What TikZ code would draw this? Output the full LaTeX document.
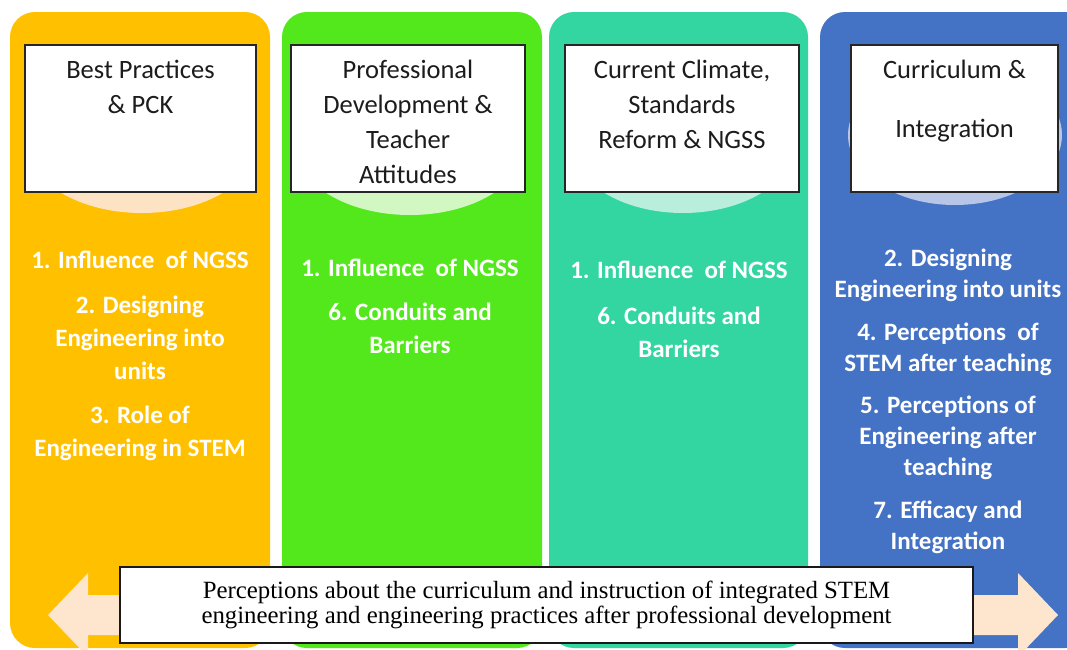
\documentclass[tikz,border=0pt]{standalone}
\usepackage{fontspec}
\setmainfont{Carlito}
\newfontfamily\serifpart{Liberation Serif}
\usetikzlibrary{positioning}

\definecolor{colBest}{HTML}{FFC000}
\definecolor{colProf}{HTML}{52E81C}
\definecolor{colClim}{HTML}{33D6A0}
\definecolor{colCurr}{HTML}{4472C4}
\definecolor{lightBest}{HTML}{FDE3C4}
\definecolor{lightProf}{HTML}{D3F7C3}
\definecolor{lightClim}{HTML}{B9EEDC}
\definecolor{lightCurr}{HTML}{B7C6E6}
\definecolor{arrowfill}{HTML}{FDE6CD}
\definecolor{hdrtext}{HTML}{1C1C1C}

\tikzset{
  column/.style={rectangle,rounded corners=25pt,minimum height=636pt,inner sep=0pt},
  hdr/.style={rectangle,draw=black!85,line width=1.4pt,fill=white,minimum height=147pt,inner sep=0pt},
  hdrtxt/.style={align=center,inner sep=0pt,text=hdrtext,font=\fontsize{26.5}{34.7}\selectfont},
  item/.style={anchor=north,align=center,inner sep=0pt,text=white,font=\bfseries\fontsize{25}{33}\selectfont},
}

\begin{document}
\begin{tikzpicture}[x=1pt,y=-1pt]
		\useasboundingbox (0,0) rectangle (1067,649);
		\clip (0,0) rectangle (1067,649);

		% the four columns
		\node[column,fill=colBest,minimum width=260pt] (C1) at (140,330) {};
		\node[column,fill=colProf,minimum width=260pt] (C2) at (412,330) {};
		\node[column,fill=colClim,minimum width=259pt] (C3) at (678.5,330) {};
		\node[column,fill=colCurr,minimum width=270pt] (C4) at (955,330) {};

		% light ovals under the headers
		\fill[lightBest] (142,143) ellipse [x radius=115, y radius=70];
		\fill[lightProf] (410,145) ellipse [x radius=115, y radius=70];
		\fill[lightClim] (683,143) ellipse [x radius=112, y radius=70];
		\fill[lightCurr] (955,135) ellipse [x radius=107, y radius=70];

		% headers
		\node[hdr,minimum width=231pt] (H1) at (140.5,118.5) {};
		\node[hdr,minimum width=234pt] (H2) at (408,118.5) {};
		\node[hdr,minimum width=234pt] (H3) at (682,118.5) {};
		\node[hdr,minimum width=207pt] (H4) at (954.5,118.5) {};

		\node[hdrtxt,below=16pt of H1.north] (T1) {Best Practices\\\& PCK};
		\node[hdrtxt,below=16pt of H2.north] (T2) {Professional\\Development \&\\Teacher\\Attitudes};
		\node[hdrtxt,below=16pt of H3.north] (T3) {Current Climate,\\Standards\\Reform \& NGSS};
		\node[hdrtxt,below=16pt of H4.north] (T4) {Curriculum \&\\[24pt]Integration};

		% themes in each column
		\node[item] (I1) at (140,251) {1. Influence\ \ of NGSS\\[12pt]2. Designing\\Engineering into\\units\\[11pt]3. Role of\\Engineering in STEM};
		\node[item] (I2) at (410,259) {1. Influence\ \ of NGSS\\[11pt]6. Conduits and\\Barriers};
		\node[item] (I3) at (679,261) {1. Influence\ \ of NGSS\\[13pt]6. Conduits and\\Barriers};
		\node[item,font=\bfseries\fontsize{25}{31.2}\selectfont] (I4) at (948,249)
			{2. Designing\\Engineering into units\\[11pt]4. Perceptions\ \ of\\STEM after teaching\\[11pt]5. Perceptions of\\Engineering after\\teaching\\[11pt]7. Efficacy and\\Integration};

		% double arrow along the bottom
		\fill[arrowfill] (48,615) -- (88,573) -- (88,595) -- (1018,595) -- (1018,573)
			-- (1058,615) -- (1018,657) -- (1018,635) -- (88,635) -- (88,657) -- cycle;

		\node[draw=black!90,line width=1.4pt,fill=white,minimum width=853pt,minimum height=76pt,
			align=center,inner sep=0pt,font=\serifpart\fontsize{24.8}{24.5}\selectfont] (P) at (546.5,605)
			{Perceptions about the curriculum and instruction of integrated STEM\\engineering and engineering practices after professional development};
	\end{tikzpicture}
\end{document}
